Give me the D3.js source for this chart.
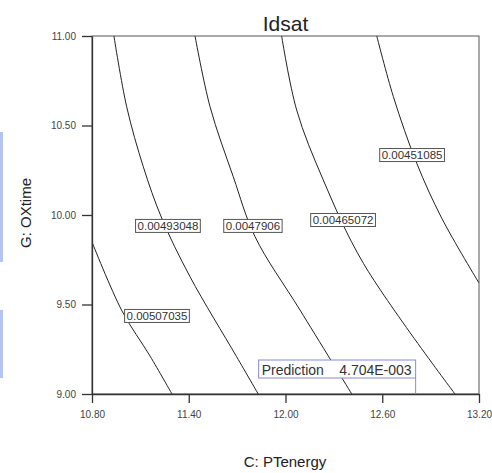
<!DOCTYPE html>
<html><head><meta charset="utf-8">
<script src="https://d3js.org/d3.v7.min.js"></script>
<style>body{margin:0;background:#fff}svg{display:block}</style>
</head><body>
<svg id="c" width="492" height="473"></svg>
<script>
// ---- data ----
const title = "Idsat";
const xTitle = "C: PTenergy";
const yTitle = "G: OXtime";
const xTicks = [10.80, 11.40, 12.00, 12.60, 13.20];
const yTicks = [9.00, 9.50, 10.00, 10.50, 11.00];
const levels = ["0.00507035", "0.00493048", "0.0047906", "0.00465072", "0.00451085"];
const contour1 = [[10.8,9.849],[10.986,9.464],[11.160,9.212],[11.296,9.0]];
const contour2 = [[10.936,11.0],[11.015,10.605],[11.118,10.270],[11.232,9.983],[11.408,9.655],[11.697,9.208],[11.831,9.0]];
const contour3 = [[11.439,11.0],[11.532,10.605],[11.676,10.214],[11.811,9.879],[12.090,9.469],[12.411,9.0]];
const contour4 = [[11.976,11.0],[12.069,10.587],[12.234,10.196],[12.483,9.730],[13.051,9.0]];
const contour5 = [[12.566,11.0],[12.669,10.661],[12.814,10.289],[12.969,9.982],[13.2,9.620]];
const contours = [contour1, contour2, contour3, contour4, contour5];
const labelAt = [[11.203,9.436],[11.271,9.939],[11.798,9.939],[12.357,9.972],[12.785,10.335]];
const predictionLabel = "Prediction";
const predictionValue = "4.704E-003";
const predictionAt = [12.807, 9.0];

// ---- layout ----
const svg = d3.select("#c");
const L = 92, R = 479, T = 36, B = 394;
const x = d3.scaleLinear().domain([10.8, 13.2]).range([L, R]);
const y = d3.scaleLinear().domain([9, 11]).range([B, T]);
const font = "Arial, 'Liberation Sans', sans-serif";

// scan artefact strip on the left edge
svg.append("rect").attr("x",0).attr("y",132).attr("width",3).attr("height",130).attr("fill","#b3c3f3");
svg.append("rect").attr("x",0).attr("y",310).attr("width",3).attr("height",68).attr("fill","#b3c3f3");

svg.append("defs").append("clipPath").attr("id","clip")
  .append("rect").attr("x",L).attr("y",T).attr("width",R-L).attr("height",B-T);

// frame
svg.append("rect").attr("x",L).attr("y",T).attr("width",R-L).attr("height",B-T)
  .attr("fill","none").attr("stroke","#555").attr("stroke-width",1);

// contours
const line = d3.line().x(d=>x(d[0])).y(d=>y(d[1])).curve(d3.curveCatmullRom.alpha(0.5));
svg.append("g").attr("clip-path","url(#clip)").selectAll("path").data(contours).join("path")
  .attr("d", line).attr("fill","none").attr("stroke","#222").attr("stroke-width",1);

// axes
const xAxis = d3.axisBottom(x).tickValues(xTicks).tickFormat(d3.format(".2f")).tickSize(9).tickSizeOuter(0);
const yAxis = d3.axisLeft(y).tickValues(yTicks).tickFormat(d3.format(".2f")).tickSize(10).tickSizeOuter(0);
const gx = svg.append("g").attr("transform",`translate(0,${B})`).call(xAxis);
const gy = svg.append("g").attr("transform",`translate(${L},0)`).call(yAxis);
[gx, gy].forEach(g => {
  g.select(".domain").attr("stroke","#333").attr("stroke-width",1.3);
  g.selectAll(".tick line").attr("stroke","#333").attr("stroke-width",1.3);
  g.selectAll(".tick text").attr("fill","#444").style("font-family",font).style("font-size","10px");
});
gx.selectAll(".tick text").attr("dy","1.2em");
gy.selectAll(".tick text").attr("x",-16);

// contour labels
const lg = svg.append("g");
levels.forEach((t,i) => {
  const cx = x(labelAt[i][0]), cy = y(labelAt[i][1]);
  const txt = lg.append("text").attr("x",cx).attr("y",cy+4.3).attr("text-anchor","middle")
    .style("font-family",font).style("font-size","11.5px").attr("fill","#333").text(t);
  const bb = txt.node().getBBox();
  lg.insert("rect","text").attr("x",bb.x-2).attr("y",cy-6.5).attr("width",bb.width+4).attr("height",13)
    .attr("fill","#fff").attr("stroke","#555").attr("stroke-width",1);
});

// prediction flag
const px = x(predictionAt[0]), py = y(predictionAt[1]);
const pg = svg.append("g");
pg.append("rect").attr("x",px-157).attr("y",py-34).attr("width",157).attr("height",18)
  .attr("fill","#fff").attr("stroke","#8a8ad8").attr("stroke-width",1);
pg.append("line").attr("x1",px).attr("x2",px).attr("y1",py-16).attr("y2",py)
  .attr("stroke","#8a8ad8").attr("stroke-width",1);
pg.append("text").attr("x",px-154).attr("y",py-19.5).style("font-family",font).style("font-size","14px")
  .attr("fill","#333").text(predictionLabel);
pg.append("text").attr("x",px-4).attr("y",py-19.5).attr("text-anchor","end").style("font-family",font).style("font-size","14px")
  .attr("fill","#333").text(predictionValue);

// titles
svg.append("text").attr("x",(L+R)/2).attr("y",31).attr("text-anchor","middle")
  .style("font-family",font).style("font-size","21px").attr("fill","#222").text(title);
svg.append("text").attr("x",285).attr("y",467).attr("text-anchor","middle")
  .style("font-family",font).style("font-size","15px").attr("fill","#222").text(xTitle);
svg.append("text").attr("transform","translate(31,213) rotate(-90)").attr("text-anchor","middle")
  .style("font-family",font).style("font-size","15px").attr("fill","#222").text(yTitle);
</script>
</body></html>
